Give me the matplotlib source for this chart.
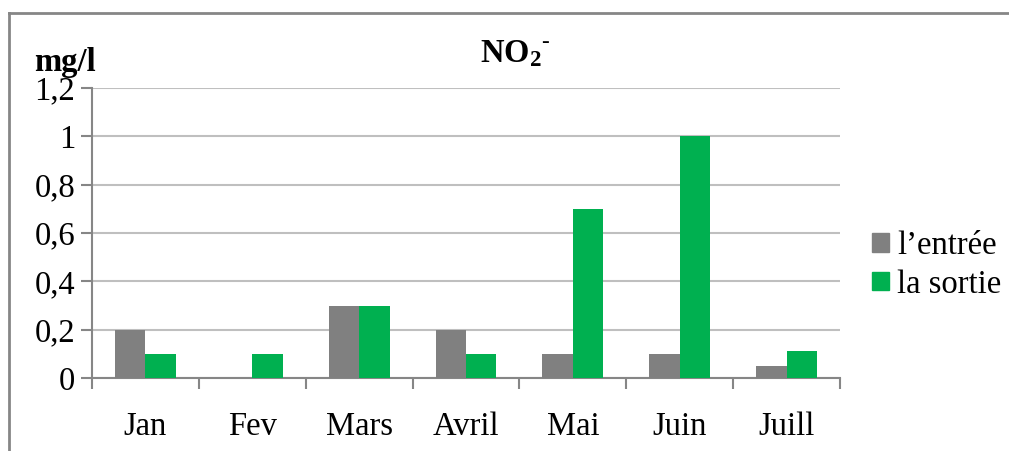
import matplotlib
matplotlib.use("Agg")
import matplotlib.pyplot as plt
from matplotlib.lines import Line2D
from matplotlib.patches import Patch
import numpy as np

SERIF = 'Liberation Serif'
plt.rcParams['font.family'] = SERIF
plt.rcParams['mathtext.fontset'] = 'custom'
plt.rcParams['mathtext.rm'] = SERIF
plt.rcParams['mathtext.bf'] = SERIF + ':bold'

months = ['Jan', 'Fev', 'Mars', 'Avril', 'Mai', 'Juin', 'Juill']
entree = [0.2, 0.0, 0.3, 0.2, 0.1, 0.1, 0.05]
sortie = [0.1, 0.1, 0.3, 0.1, 0.7, 1.0, 0.11]
yticks = [0, 0.2, 0.4, 0.6, 0.8, 1.0, 1.2]
ytick_labels = ['0', '0,2', '0,4', '0,6', '0,8', '1', '1,2']

FS = 23.5
W, H = 1009, 451
fig = plt.figure(figsize=(W/100, H/100), dpi=100)
ax = fig.add_axes([92/W, 1 - 378/H, (840-92)/W, (378-88)/H])

x = np.arange(len(months)) + 0.5
bw = 0.285
ax.bar(x - bw/2, entree, bw, color='#808080', zorder=3)
ax.bar(x + bw/2, sortie, bw, color='#00B050', zorder=3)

ax.set_xlim(0, len(months))
ax.set_ylim(0, 1.2)
ax.set_yticks(yticks)
ax.set_yticklabels(ytick_labels, family=SERIF, fontsize=FS)
ax.set_xticks(np.arange(len(months) + 1))
ax.set_xticklabels([])
ax.set_xticks(x, minor=True)
ax.set_xticklabels(months, minor=True, family=SERIF, fontsize=FS)
ax.tick_params(axis='x', which='minor', length=0, pad=24)
ax.tick_params(axis='x', which='major', length=8, width=1.5, color='#868686', direction='out')
ax.tick_params(axis='y', length=8, width=1.5, color='#868686', direction='out', pad=4)
ax.grid(axis='y', color='#bfbfbf', linewidth=1.5, zorder=0)
for s in ['top', 'right']:
    ax.spines[s].set_visible(False)
for s in ['left', 'bottom']:
    ax.spines[s].set_color('#868686')
    ax.spines[s].set_linewidth(1.5)

fig.text(515/W, 1 - 54/H, r'$\mathbf{NO_2}{}^{\text{-}}$', ha='center', va='center', fontsize=FS)
fig.text(65/W, 1 - 62/H, 'mg/l', ha='center', va='center', family=SERIF, fontsize=FS, fontweight='bold')

handles = [Patch(color='#808080'), Patch(color='#00B050')]
fig.legend(handles, ["l\u2019entrée", 'la sortie'], loc='center left',
           bbox_to_anchor=(843/W, 1 - 265/H), frameon=False,
           prop={'family': SERIF, 'size': FS},
           handlelength=0.5, handleheight=0.5, handletextpad=0.25, labelspacing=0.25)

fig.add_artist(Line2D([9/W, 9/W], [0, 1 - 13/H], color='#868686', linewidth=2, transform=fig.transFigure))
fig.add_artist(Line2D([9/W, 1], [1 - 13/H, 1 - 13/H], color='#868686', linewidth=2, transform=fig.transFigure))

fig.savefig('out.png', dpi=100)
